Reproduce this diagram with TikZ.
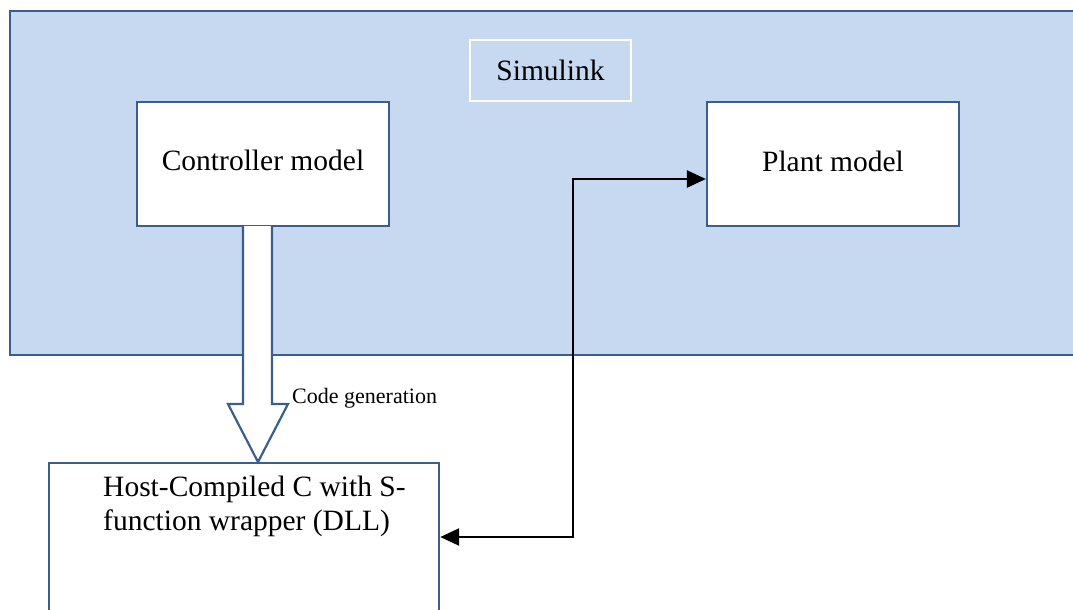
\documentclass[tikz,border=0pt]{standalone}
\usepackage{fontspec}
\setmainfont{Liberation Serif}
\usetikzlibrary{arrows.meta}
\definecolor{bord}{HTML}{3A5F8F}
\definecolor{simfill}{HTML}{C6D9F0}
\begin{document}
\begin{tikzpicture}[x=1pt,y=-1pt,
  box/.style={draw=bord, line width=2.2pt, fill=white, inner sep=0pt, minimum width=252pt, minimum height=124pt},
  lbl/.style={font=\fontsize{29.5}{34}\selectfont, text=black},
  conn/.style={line width=2.5pt, {Triangle[length=19pt,width=17pt]}-{Triangle[length=19pt,width=17pt]}}]
\useasboundingbox (0,0) rectangle (1073,610);
\clip (0,0) rectangle (1073,610);
% Simulink region
\node[draw=bord, line width=2.2pt, fill=simfill, anchor=north west, minimum width=1080pt, minimum height=344pt, inner sep=0pt] (sim) at (9,10) {};
\node[draw=white, line width=2pt, fill=simfill, minimum width=161pt, minimum height=61pt, inner sep=0pt, lbl] (simlbl) at (550.5,70.5) {\raisebox{1pt}{Simulink}};
% model boxes
\node[box, lbl] (ctrl) at (263,164) {\raisebox{7pt}{Controller model}};
\node[box, lbl] (plant) at (833,164) {\raisebox{5pt}{Plant model}};
% host box
\node[draw=bord, line width=2.2pt, fill=white, anchor=north west, minimum width=390pt, minimum height=200pt, inner sep=0pt] (host) at (48,462) {};
\node[lbl, anchor=north west, align=left, inner sep=0pt] (hosttxt) at (103,476) {Host-Compiled C with S-\\function wrapper (DLL)};
% hollow code generation arrow
\draw[draw=bord, fill=white, line width=2.2pt, line join=miter]
  (243,226) -- (243,404) -- (228,404) -- (258,462) -- (288,404) -- (272,404) -- (272,226);
\node[font=\fontsize{22}{26}\selectfont, anchor=west, inner sep=0pt] (codegen) at (292,398) {Code generation};
% connector
\coordinate (pin) at (plant.west |- 0,179);
\coordinate (hin) at (host.east |- 0,537);
\draw[conn] (hin) -- (573,537) |- (pin);
\end{tikzpicture}
\end{document}
